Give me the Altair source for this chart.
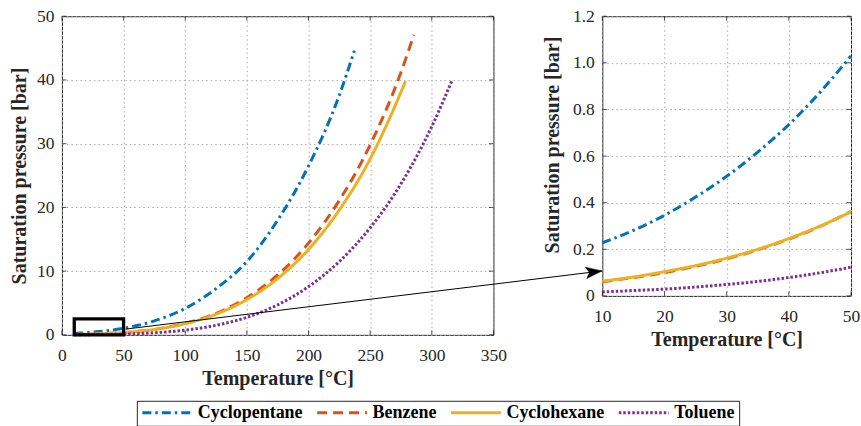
import altair as alt
import pandas as pd

# ---------------- data ----------------
fluids = ["Cyclopentane", "Benzene", "Cyclohexane", "Toluene"]
colors = ["#0072BD", "#D95319", "#EDB120", "#7E2F8E"]
dashes = [[9, 4, 2.5, 4], [10, 6], [1, 0], [2.5, 2]]

T_cp = [10, 15, 20, 25, 30, 35, 40, 45, 50, 60, 75, 100, 125, 150, 175, 200, 225, 237.2]
p_cp = [0.228, 0.281, 0.346, 0.424, 0.513, 0.617, 0.735, 0.873, 1.03, 1.42, 2.20, 4.16,
        7.25, 11.5, 18.0, 26.5, 37.6, 44.6]

T_bz = [10, 15, 20, 25, 30, 35, 40, 45, 50, 60, 75, 100, 125, 150, 175, 200, 225, 250, 275, 285.5]
p_bz = [0.061, 0.079, 0.100, 0.127, 0.159, 0.198, 0.244, 0.298, 0.362, 0.522, 0.862, 1.80,
        3.37, 5.83, 9.40, 14.4, 21.1, 29.8, 41.2, 47.1]

T_ch = [10, 15, 20, 25, 30, 35, 40, 45, 50, 60, 75, 100, 125, 150, 175, 200, 225, 250, 275, 278.7]
p_ch = [0.063, 0.081, 0.104, 0.130, 0.162, 0.200, 0.246, 0.299, 0.361, 0.519, 0.850, 1.75,
        3.24, 5.53, 8.84, 13.4, 19.6, 27.6, 38.1, 39.8]

T_tl = [10, 15, 20, 25, 30, 35, 40, 45, 50, 60, 75, 100, 125, 150, 175, 200, 225, 250, 275, 300, 316.6]
p_tl = [0.017, 0.023, 0.029, 0.038, 0.049, 0.062, 0.079, 0.099, 0.123, 0.185, 0.326, 0.742,
        1.50, 2.75, 4.71, 7.57, 11.5, 16.8, 23.7, 32.7, 40.0]

# axis ticks
xt_main = [0, 50, 100, 150, 200, 250, 300, 350]
yt_main = [0, 10, 20, 30, 40, 50]
xt_zoom = [10, 20, 30, 40, 50]
yt_zoom = [0, 0.2, 0.4, 0.6, 0.8, 1.0, 1.2]

# zoom box (data units of main panel) and arrow (data units of main panel)
box_T = [10, 50]
box_p = [0, 2.5]
arrow_T = [51.6, 438.0]
arrow_p = [0.9, 10.03]

# ---------------- build tables ----------------
rows = []
for name, Ts, ps in zip(fluids, [T_cp, T_bz, T_ch, T_tl], [p_cp, p_bz, p_ch, p_tl]):
    for t, v in zip(Ts, ps):
        rows.append({"fluid": name, "T": t, "p": v})
df = pd.DataFrame(rows)

W1, H1 = 432, 319
W2, H2 = 249, 280
TICK = 4.5
INK = "#262626"
FONT = "Liberation Serif"

leg = alt.Legend(
    orient="none", legendX=75, legendY=385, direction="horizontal", columns=4,
    title=None, symbolType="stroke", symbolSize=2500, symbolStrokeWidth=3,
    labelFont=FONT, labelFontWeight="bold", labelFontSize=18, labelColor="black",
    strokeColor=INK, fillColor="white", padding=4, columnPadding=13, labelOffset=4,
    clipHeight=16,
)


def panel(data, xdom, ydom, xt, yt, W, H, legend, ylabfmt, ytp, ytitle_y=None):
    xs = alt.Scale(domain=xdom, nice=False, zero=False)
    ys = alt.Scale(domain=ydom, nice=False, zero=False)
    xax = alt.Axis(values=xt, title="Temperature [°C]", labelFlush=False)
    yargs = dict(values=yt, title="Saturation pressure [bar]", labelFlush=False,
                 labelExpr=ylabfmt, titlePadding=ytp)
    if ytitle_y is not None:
        yargs["titleY"] = ytitle_y
    yax = alt.Axis(**yargs)

    def X(f="T"):
        return alt.X(f + ":Q", scale=xs, axis=xax, title="Temperature [°C]")

    def Y(f="p"):
        return alt.Y(f + ":Q", scale=ys, axis=yax, title="Saturation pressure [bar]")

    col = alt.Color("fluid:N", scale=alt.Scale(domain=fluids, range=colors),
                    legend=legend)
    dash = alt.StrokeDash("fluid:N", scale=alt.Scale(domain=fluids, range=dashes),
                          legend=legend)
    lines = alt.Chart(data).mark_line(strokeWidth=3, interpolate="monotone").encode(
        x=X(), y=Y(), color=col, strokeDash=dash
    )
    xtdf = pd.DataFrame({"T": xt})
    ytdf = pd.DataFrame({"p": yt})
    tb = alt.Chart(xtdf).mark_rule(color=INK, strokeWidth=0.8).encode(
        x=X(), y=alt.value(H), y2=alt.value(H - TICK))
    tt = alt.Chart(xtdf).mark_rule(color=INK, strokeWidth=0.8).encode(
        x=X(), y=alt.value(0), y2=alt.value(TICK))
    tl = alt.Chart(ytdf).mark_rule(color=INK, strokeWidth=0.8).encode(
        y=Y(), x=alt.value(0), x2=alt.value(TICK))
    tr = alt.Chart(ytdf).mark_rule(color=INK, strokeWidth=0.8).encode(
        y=Y(), x=alt.value(W), x2=alt.value(W - TICK))
    return X, Y, [lines, tb, tt, tl, tr]


X1, Y1, layers1 = panel(df, [0, 350], [0, 50], xt_main, yt_main, W1, H1, leg,
                        "format(datum.value, 'd')", 6.5)

box_df = pd.DataFrame({"T": [box_T[0]], "T2": [box_T[1]], "p": [box_p[0]], "p2": [box_p[1]]})
box = alt.Chart(box_df).mark_rect(fillOpacity=0, stroke="black", strokeWidth=3.3).encode(
    x=X1("T"), x2="T2:Q", y=Y1("p"), y2="p2:Q")

arr_df = pd.DataFrame({"T": [arrow_T[0]], "T2": [arrow_T[1]], "p": [arrow_p[0]], "p2": [arrow_p[1]]})
arrow_line = alt.Chart(arr_df).mark_rule(color="black", strokeWidth=1).encode(
    x=X1("T"), x2="T2:Q", y=Y1("p"), y2="p2:Q")
head_df = pd.DataFrame({"T": [arrow_T[1]], "p": [arrow_p[1]]})
arrow_head = alt.Chart(head_df).mark_point(
    shape="M0,0L-1,-0.36L-0.78,0L-1,0.36Z", size=1024, angle=353, filled=True,
    fill="black", stroke="black", strokeWidth=0.5, opacity=1
).encode(x=X1("T"), y=Y1("p"))

left = alt.layer(*layers1, box, arrow_line, arrow_head).properties(width=W1, height=H1)

zoom_df = df[df["T"] <= 50]
X2, Y2, layers2 = panel(zoom_df, [10, 50], [0, 1.2], xt_zoom, yt_zoom, W2, H2, None,
                        "datum.value == 0 ? '0' : format(datum.value, '.1f')", 9.5,
                        ytitle_y=128.5)
right = alt.layer(*layers2).properties(width=W2, height=H2)

chart = alt.hconcat(left, right, spacing=109, bounds="flush").resolve_scale(
    color="independent", strokeDash="independent"
).properties(
    padding={"left": 9, "top": 6, "right": 0, "bottom": 0}
).configure_view(
    stroke=INK, strokeWidth=1
).configure_axis(
    labelFont=FONT, labelFontSize=17.5, labelColor=INK,
    titleFont=FONT, titleFontSize=20, titleFontWeight="bold", titleColor=INK,
    domain=False, ticks=False, grid=True, gridColor="#a8a8a8", gridDash=[1.5, 3],
    gridWidth=1,
).configure_axisX(
    labelPadding=12, titlePadding=4
).configure_axisY(
    labelPadding=8
)

chart.save("out.html", embed_options={"renderer": "svg", "actions": False})
